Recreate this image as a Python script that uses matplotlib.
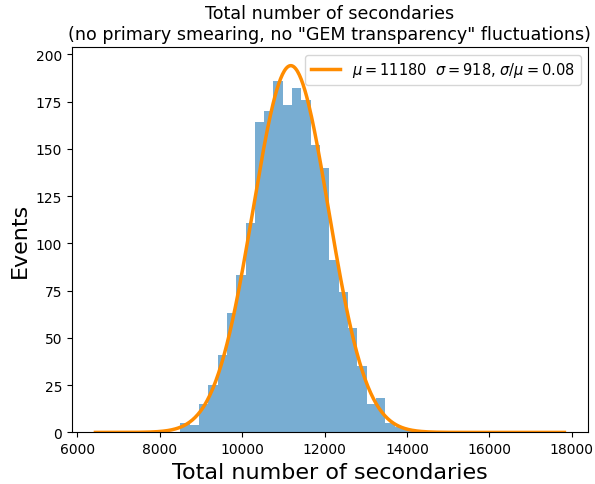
import numpy as np
import matplotlib
matplotlib.use("Agg")
from matplotlib import pyplot as plt

# Histogram of total secondaries (bin edges and counts)
bin_lo = 8498
bin_hi = 14607
counts = [5, 4, 15, 25, 41, 63, 83, 111, 164, 170, 186, 173, 182, 176,
          152, 140, 91, 74, 55, 35, 15, 18, 5, 3, 2, 1, 1]

# Gaussian fit
mu = 11180
sigma = 918
amp = 194
fit_lo = 6440
fit_hi = 17820

edges = np.linspace(bin_lo, bin_hi, len(counts) + 1)
centers = 0.5 * (edges[:-1] + edges[1:])

fig = plt.figure(figsize=(5.95, 4.85), dpi=100)
ax = fig.add_axes([0.121, 0.1064, 0.867, 0.794])

ax.hist(centers, bins=edges, weights=counts, color='#1f77b4', alpha=0.6)

x = np.linspace(fit_lo, fit_hi, 500)
y = amp * np.exp(-(x - mu) ** 2 / (2 * sigma ** 2))
ax.plot(x, y, color='darkorange', linewidth=2.5,
        label=r'$\mu = %d$  $\sigma = %d$, $\sigma/\mu = %.2f$' % (mu, sigma, sigma / mu))

ax.set_yticks(np.arange(0, 201, 25))
ax.set_title('Total number of secondaries\n(no primary smearing, no "GEM transparency" fluctuations)',
             fontsize=12.6)
ax.set_xlabel('Total number of secondaries', fontsize=16)
ax.set_ylabel('Events', fontsize=16)
ax.legend(loc='upper right', fontsize=10.5)

fig.savefig('out.png', dpi=100)
